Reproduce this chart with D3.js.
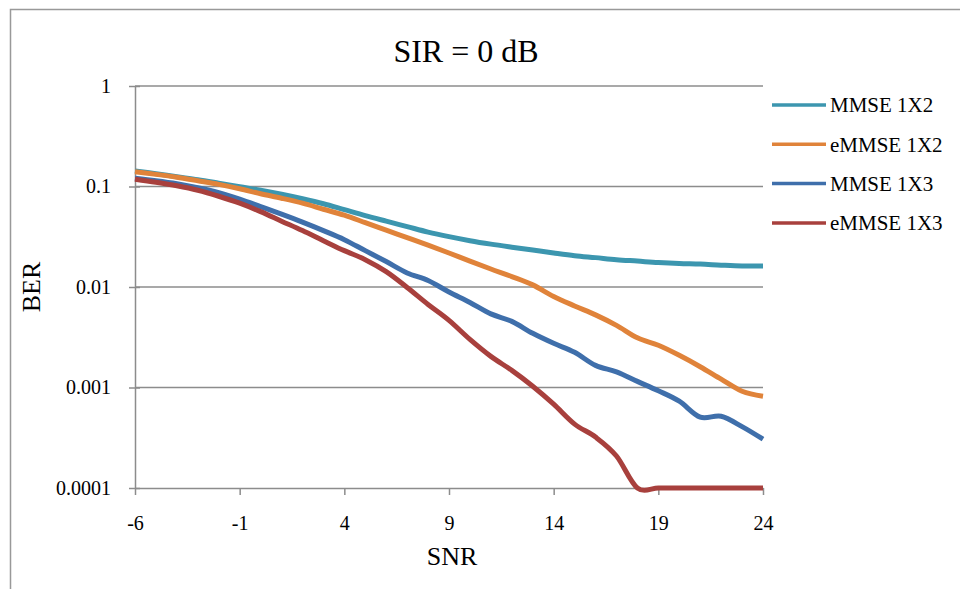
<!DOCTYPE html>
<html>
<head>
<meta charset="utf-8">
<script src="https://cdn.jsdelivr.net/npm/d3@7/dist/d3.min.js"></script>
<style>
body { margin:0; background:#fff; }
text { font-family: "Liberation Serif", "Times New Roman", serif; fill:#000; }
</style>
</head>
<body>
<div id="chart"></div>
<script>
/* data */
var snr = [-6,-5,-4,-3,-2,-1,0,1,2,3,4,5,6,7,8,9,10,11,12,13,14,15,16,17,18,19,20,21,22,23,24];
var mmse12 = [0.143,0.134,0.125,0.117,0.108,0.0994,0.0918,0.0838,0.0756,0.0674,0.0588,0.0513,0.0452,0.0399,0.0352,0.0317,0.0289,0.0267,0.0249,0.0233,0.0218,0.0205,0.0196,0.0187,0.0181,0.0175,0.0171,0.0169,0.0165,0.0162,0.0162];
var emmse12 = [0.140,0.132,0.1235,0.114,0.105,0.095,0.0847,0.0764,0.0682,0.0594,0.0518,0.0437,0.0368,0.031,0.0261,0.0218,0.0181,0.0151,0.0127,0.0105,0.00805,0.00648,0.00528,0.00415,0.00312,0.00263,0.00209,0.00161,0.00121,0.000918,0.000819];
var mmse13 = [0.1207,0.1141,0.1065,0.0972,0.0867,0.0747,0.063,0.053,0.0442,0.0364,0.0296,0.023,0.0179,0.0138,0.0116,0.00892,0.00702,0.0054,0.00455,0.00346,0.00275,0.00224,0.00166,0.00143,0.00115,0.000928,0.00073,0.000507,0.000518,0.000408,0.000306];
var emmse13 = [0.118,0.1102,0.1017,0.0918,0.08,0.0682,0.0562,0.0452,0.0364,0.0289,0.023,0.0187,0.0142,0.00989,0.0067,0.00465,0.00301,0.00204,0.00148,0.00103,0.000682,0.000432,0.000321,0.000208,0.0001,0.0001,0.0001,0.0001,0.0001,0.0001,0.0001];
var seriesNames = ["MMSE 1X2","eMMSE 1X2","MMSE 1X3","eMMSE 1X3"];
var seriesColors = ["#3c96af","#e0833a","#3f6fab","#a8403d"];
var xTicks = [-6,-1,4,9,14,19,24];
var yTicks = [1,0.1,0.01,0.001,0.0001];

var W = 960, H = 589;
var plotL = 135, plotR = 763, plotT = 86, plotB = 488;

var svg = d3.select("#chart").append("svg").attr("width",W).attr("height",H);

// outer frame (cut off at right/bottom like the screenshot)
svg.append("rect").attr("x",10.5).attr("y",9.5).attr("width",1000).attr("height",700)
	.attr("fill","none").attr("stroke","#999").attr("stroke-width",1.5);

var x = d3.scaleLinear().domain([-6,24]).range([plotL,plotR]);
var y = d3.scaleLog().domain([0.0001,1]).range([plotB,plotT]);

// grid
svg.append("g").selectAll("line").data(yTicks.slice(0,4)).enter().append("line")
	.attr("x1",plotL).attr("x2",plotR)
	.attr("y1",function(d){return y(d);}).attr("y2",function(d){return y(d);})
	.attr("stroke","#8c8c8c").attr("stroke-width",1.5);

// y axis (ticks cross the axis line)
var yAxis = d3.axisLeft(y).tickValues(yTicks).tickSize(6).tickPadding(18).tickSizeOuter(0)
	.tickFormat(function(d){return String(d);});
var gy = svg.append("g").attr("transform","translate("+plotL+",0)").call(yAxis);
gy.select(".domain").attr("stroke","#8c8c8c").attr("stroke-width",1.5);
gy.selectAll(".tick line").attr("x1",5).attr("stroke","#8c8c8c").attr("stroke-width",1.5);
gy.selectAll(".tick text").style("font-family","Liberation Serif").style("font-size","20px").attr("fill","#000");

// x axis
var xAxis = d3.axisBottom(x).tickValues(xTicks).tickSize(7).tickPadding(21).tickSizeOuter(0)
	.tickFormat(function(d){return String(d);});
var gx = svg.append("g").attr("transform","translate(0,"+plotB+")").call(xAxis);
gx.select(".domain").attr("stroke","#8c8c8c").attr("stroke-width",1.5);
gx.selectAll(".tick line").attr("stroke","#8c8c8c").attr("stroke-width",1.5);
gx.selectAll(".tick text").style("font-family","Liberation Serif").style("font-size","20px").attr("fill","#000");

// lines
var data = [mmse12,emmse12,mmse13,emmse13];
var line = d3.line()
	.x(function(d,i){return x(snr[i]);})
	.y(function(d){return y(d);})
	.curve(d3.curveCardinal.tension(0));

svg.append("g").selectAll("path").data(data).enter().append("path")
	.attr("d",line)
	.attr("fill","none")
	.attr("stroke",function(d,i){return seriesColors[i];})
	.attr("stroke-width",5)
	.attr("stroke-linejoin","round");

// titles
svg.append("text").attr("x",466).attr("y",62).attr("text-anchor","middle")
	.style("font-size","32px").text("SIR = 0 dB");
svg.append("text").attr("x",452).attr("y",565).attr("text-anchor","middle")
	.style("font-size","26px").text("SNR");
svg.append("text").attr("transform","translate(40,287) rotate(-90)").attr("text-anchor","middle")
	.style("font-size","26px").text("BER");

// legend
var leg = svg.append("g").selectAll("g").data(seriesNames).enter().append("g")
	.attr("transform",function(d,i){return "translate(772,"+(105+i*39.3)+")";});
leg.append("line").attr("x1",0).attr("x2",54)
	.attr("stroke",function(d,i){return seriesColors[i];}).attr("stroke-width",3.5);
leg.append("text").attr("x",58).attr("dy","0.35em").style("font-size","21px").text(function(d){return d;});
</script>
</body>
</html>
